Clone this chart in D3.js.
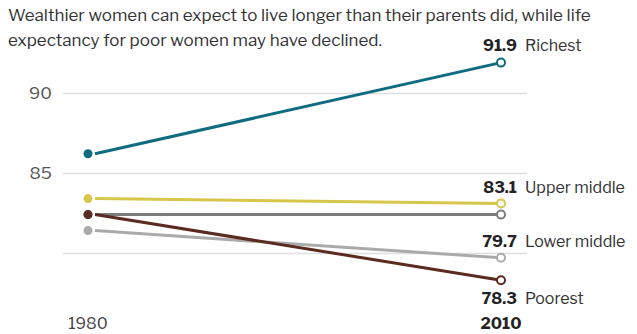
<!DOCTYPE html>
<html lang="en">
<head>
	<meta charset="utf-8">
	<title>Life expectancy of women by income</title>
	<script src="https://d3js.org/d3.v7.min.js"></script>
	<style type="text/css">
		body { margin: 0; background: #fff; }
		text { font-family: "Libre Franklin", Roboto, "Liberation Sans", sans-serif; }
	</style>
</head>
<body>
	<script type="text/javascript">

		let w = 637;
		let h = 334;

		// income groups, values for 1980 and 2010
		let groups = ["Richest", "Upper middle", "Middle", "Lower middle", "Poorest"];
		let start = [86.2, 83.4, 82.4, 81.4, 82.4];
		let end = [91.9, 83.1, 82.4, 79.7, 78.3];
		let labelled = [true, true, false, true, true];
		let colors = ["#0f6b80", "#d6c74c", "#7d7d7d", "#aaaaaa", "#5b2b20"];
		let years = ["1980", "2010"];
		let yTicks = [80, 85, 90];
		let titleLines = ["Wealthier women can expect to live longer than their parents did, while life",
			"expectancy for poor women may have declined."];

		let xScale = d3.scalePoint()
			.domain(years)
			.range([88, 501]);

		let yScale = d3.scaleLinear()
			.domain([80, 90])
			.range([253, 93]);

		let svg = d3.select("body")
			.append("svg")
			.attr("width", w)
			.attr("height", h);

		// title
		svg.selectAll("text.title")
			.data(titleLines)
			.enter()
			.append("text")
			.attr("class", "title")
			.attr("x", 8)
			.attr("y", function (d, i) { return 21 + i * 25; })
			.attr("font-size", "17px")
			.attr("fill", "#333")
			.text(function (d) { return d; });

		// gridlines + tick labels
		let yAxis = d3.axisLeft(yScale)
			.tickValues(yTicks)
			.tickSize(-464)
			.tickFormat(function (d) { return d === 80 ? "" : d; });

		let gy = svg.append("g")
			.attr("transform", "translate(63,0)")
			.call(yAxis);
		gy.select(".domain").remove();
		gy.selectAll(".tick line").attr("stroke", "#dedede").attr("stroke-width", 1.5);
		gy.selectAll(".tick text")
			.attr("x", -11)
			.attr("font-size", "17px")
			.attr("font-family", null)
			.attr("fill", "#555");

		// year labels
		svg.selectAll("text.year")
			.data(years)
			.enter()
			.append("text")
			.attr("class", "year")
			.attr("x", function (d) { return xScale(d); })
			.attr("y", 329)
			.attr("text-anchor", "middle")
			.attr("font-size", "16px")
			.attr("font-weight", function (d, i) { return i === 1 ? "bold" : "normal"; })
			.attr("fill", function (d, i) { return i === 1 ? "#222" : "#444"; })
			.text(function (d) { return d; });

		let x0 = xScale(years[0]);
		let x1 = xScale(years[1]);

		// lines, drawn back to front so Richest sits on top
		let order = [3, 2, 4, 1, 0];

		svg.selectAll("line.series")
			.data(order)
			.enter()
			.append("line")
			.attr("class", "series")
			.attr("x1", x0 + 7)
			.attr("y1", function (i) { return yScale(start[i]); })
			.attr("x2", x1)
			.attr("y2", function (i) { return yScale(end[i]); })
			.attr("stroke", function (i) { return colors[i]; })
			.attr("stroke-width", 3);

		svg.selectAll("circle.start")
			.data(order)
			.enter()
			.append("circle")
			.attr("class", "start")
			.attr("cx", x0)
			.attr("cy", function (i) { return yScale(start[i]); })
			.attr("r", 4.5)
			.attr("fill", function (i) { return colors[i]; });

		svg.selectAll("circle.end")
			.data(order)
			.enter()
			.append("circle")
			.attr("class", "end")
			.attr("cx", x1)
			.attr("cy", function (i) { return yScale(end[i]); })
			.attr("r", 4)
			.attr("fill", "#fff")
			.attr("stroke", function (i) { return colors[i]; })
			.attr("stroke-width", 2);

		// value + name labels at the right end
		let labelOffset = [-18, -16, 0, -17, 18];
		let lab = svg.selectAll("g.label")
			.data(d3.range(groups.length).filter(function (i) { return labelled[i]; }))
			.enter()
			.append("g")
			.attr("class", "label")
			.attr("transform", function (i) {
				return "translate(0," + (yScale(end[i]) + labelOffset[i] + 6) + ")";
			});

		lab.append("text")
			.attr("x", 517)
			.attr("text-anchor", "end")
			.attr("font-size", "16px")
			.attr("font-weight", "bold")
			.attr("fill", "#222")
			.text(function (i) { return d3.format(".1f")(end[i]); });

		lab.append("text")
			.attr("x", 525)
			.attr("font-size", "16px")
			.attr("fill", "#333")
			.text(function (i) { return groups[i]; });

	</script>
</body>
</html>
